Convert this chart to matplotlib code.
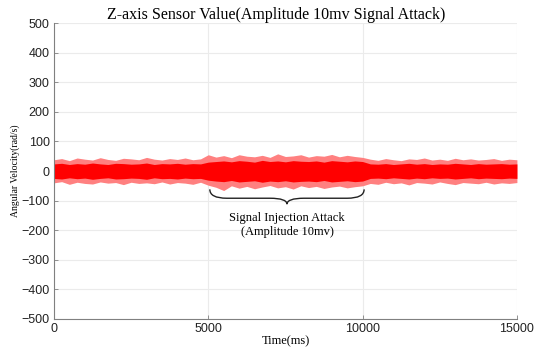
import numpy as np
import matplotlib
matplotlib.use("Agg")
import matplotlib.pyplot as plt
from matplotlib.path import Path
from matplotlib.patches import PathPatch

# ---- data (envelope, every 250 ms) ----
t_ms = list(range(0, 15001, 250))
peak_hi = [38, 42, 35, 44, 40, 37, 45, 39, 36, 43, 41, 38, 46, 40, 37, 42, 39, 44, 38, 41, 55,
           47, 52, 45, 55, 50, 48, 53, 46, 58, 49, 51, 55, 47, 52, 50, 56, 48, 53, 49, 46,
           40, 36, 42, 38, 35, 41, 39, 44, 37, 40, 36, 43, 38, 41, 37, 39, 42, 36, 40, 38]
peak_lo = [-40, -36, -45, -38, -42, -44, -37, -41, -39, -46, -38, -42, -40, -43, -37, -44, -39, -41, -45, -38, -48,
           -55, -66, -50, -58, -52, -60, -54, -49, -57, -53, -61, -50, -56, -52, -59, -54, -51, -57, -53, -50,
           -42, -45, -38, -43, -40, -47, -39, -41, -44, -37, -42, -46, -39, -41, -43, -38, -44, -40, -42, -39]
core_hi = [24, 26, 22, 25, 23, 27, 24, 22, 26, 25, 23, 24, 27, 22, 25, 24, 26, 23, 25, 24, 30,
           32, 34, 31, 35, 33, 30, 36, 32, 34, 31, 35, 33, 32, 34, 30, 35, 33, 31, 34, 32,
           24, 23, 25, 22, 24, 26, 23, 25, 22, 24, 23, 26, 24, 22, 25, 23, 24, 25, 23, 24]
core_lo = [-25, -27, -23, -26, -24, -28, -25, -23, -27, -26, -24, -25, -28, -23, -26, -25, -27, -24, -26, -25, -31,
           -34, -36, -32, -37, -35, -33, -38, -34, -36, -33, -37, -35, -34, -36, -32, -37, -35, -33, -36, -34,
           -25, -24, -26, -23, -25, -27, -24, -26, -23, -25, -24, -27, -25, -23, -26, -24, -25, -26, -24, -25]

x_ticks = [0, 5000, 10000, 15000]
y_ticks = list(range(-500, 501, 100))
attack_span = (5050, 10050)

serif = ["Liberation Serif", "DejaVu Serif"]
sans = ["Liberation Sans", "DejaVu Sans"]

fig = plt.figure(figsize=(5.34, 3.49), dpi=100)
ax = fig.add_axes([0.101, 0.086, 0.867, 0.848])

ax.fill_between(t_ms, peak_lo, peak_hi, color="#ff8080", lw=0)
ax.fill_between(t_ms, core_lo, core_hi, color="red", lw=0)

ax.set_xlim(0, 15000)
ax.set_ylim(-500, 500)
ax.set_xticks(x_ticks)
ax.set_yticks(y_ticks)
ax.grid(True, color="#ebebeb", lw=0.8)
ax.set_axisbelow(True)
for s in ["top", "right"]:
    ax.spines[s].set_visible(False)
for s in ["left", "bottom"]:
    ax.spines[s].set_color("#808080")
    ax.spines[s].set_linewidth(0.8)
ax.tick_params(direction="in", length=3, width=0.6, color="#808080", labelsize=9, pad=3)
for lb in ax.get_xticklabels() + ax.get_yticklabels():
    lb.set_family(sans)
    lb.set_color("#222222")

ax.set_title("Z-axis Sensor Value(Amplitude 10mv Signal Attack)", family=serif, fontsize=11.5,
             pad=3, x=0.479)
ax.set_xlabel("Time(ms)", family=serif, fontsize=9, labelpad=0)
ax.set_ylabel("Angular Velocity(rad/s)", family=serif, fontsize=7, labelpad=1)

# ---- curly brace ----
x0, x1 = attack_span
xm = (x0 + x1) / 2
w = 550
y_tip, y_flat, y_mid = -62, -92, -112
verts = [(x0, y_tip), (x0, y_flat), (x0 + w, y_flat),
         (xm - w, y_flat), (xm, y_flat), (xm, y_mid),
         (xm, y_flat), (xm + w, y_flat),
         (x1 - w, y_flat), (x1, y_flat), (x1, y_tip)]
codes = [Path.MOVETO, Path.CURVE3, Path.CURVE3,
         Path.LINETO, Path.CURVE3, Path.CURVE3,
         Path.CURVE3, Path.CURVE3,
         Path.LINETO, Path.CURVE3, Path.CURVE3]
ax.add_patch(PathPatch(Path(verts, codes), fill=False, lw=1.0, ec="#222222"))
ax.text(xm, -182, "Signal Injection Attack\n(Amplitude 10mv)", family=serif, fontsize=9,
        ha="center", va="center", linespacing=1.15)

fig.savefig("out.png", dpi=100)
